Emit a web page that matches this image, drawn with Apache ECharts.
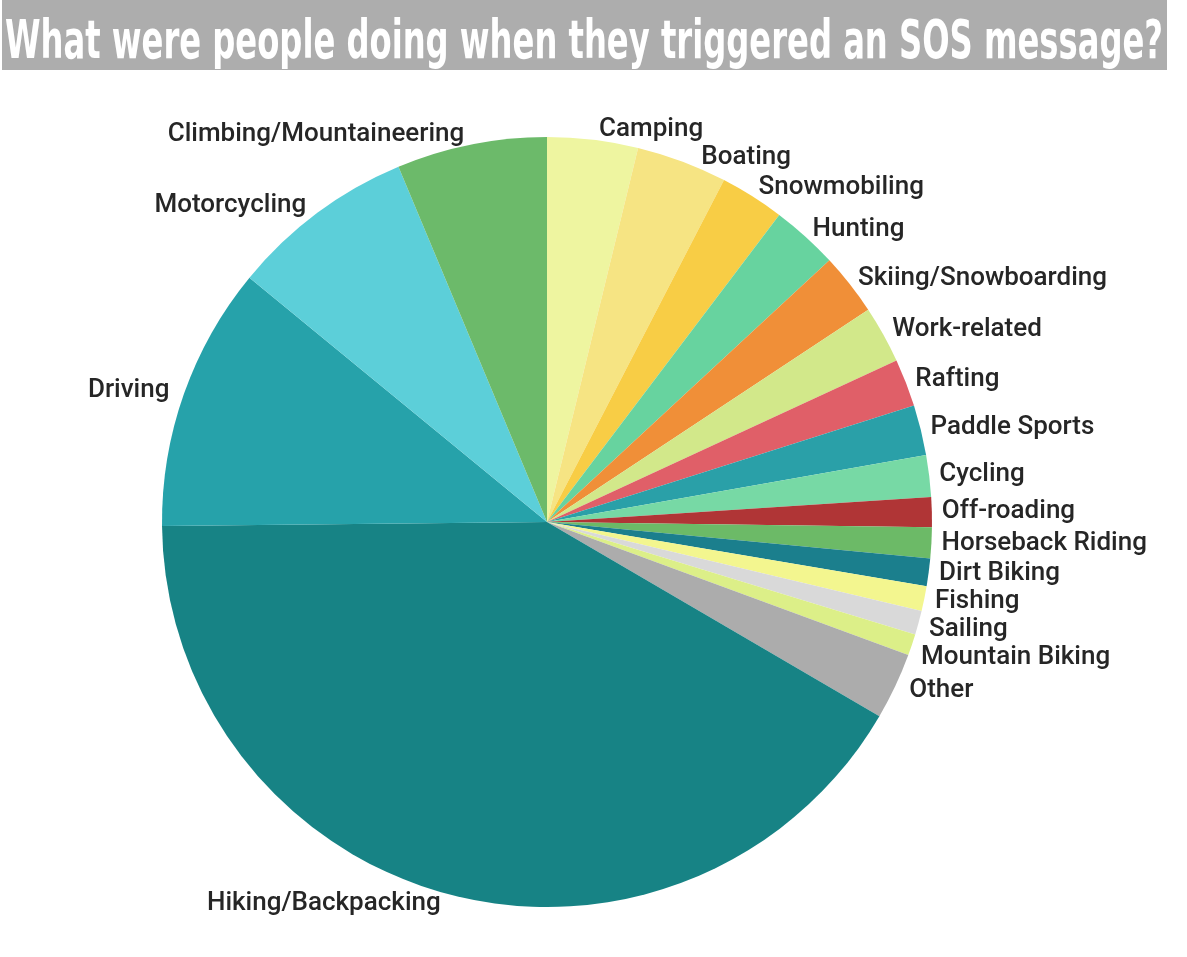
<!DOCTYPE html>
<html>
<head>
<meta charset="utf-8">
<title>SOS activities</title>
<script src="https://cdn.jsdelivr.net/npm/echarts@6/dist/echarts.min.js"></script>
<style>
  html, body { margin: 0; padding: 0; background: #fff; }
  #chart { width: 1187px; height: 957px; }
</style>
</head>
<body>
<div id="chart"></div>
<script>
// 数据 (读图估算, 百分比)
var titleText = 'What were people doing when they triggered an SOS message?'
var categories = [
  'Camping', 'Boating', 'Snowmobiling', 'Hunting', 'Skiing/Snowboarding',
  'Work-related', 'Rafting', 'Paddle Sports', 'Cycling', 'Off-roading',
  'Horseback Riding', 'Dirt Biking', 'Fishing', 'Sailing', 'Mountain Biking',
  'Other', 'Hiking/Backpacking', 'Driving', 'Motorcycling', 'Climbing/Mountaineering'
]
var values = [
  3.8, 3.8, 2.7, 2.8, 2.6,
  2.4, 2.0, 2.1, 1.75, 1.25,
  1.3, 1.15, 1.05, 1.0, 0.9,
  2.8, 41.4, 11.1, 7.75, 6.3
]
var colors = [
  '#eef5a0', '#f6e483', '#f8cd45', '#67d39f', '#f08f38',
  '#d2e88a', '#e05f68', '#2aa0a8', '#77d9a5', '#b03536',
  '#6cba67', '#1b7f8d', '#f3f68f', '#d9d9d9', '#dcef88',
  '#acacac', '#178385', '#26a2aa', '#5ccfd9', '#6cba6a'
]

// 标题字体压缩, 按宽度算 scaleX
var titleFont = 'bold 53px "DejaVu Sans Condensed"'
var ctx = document.createElement('canvas').getContext('2d')
ctx.font = titleFont
var titleScale = 1158 / ctx.measureText(titleText).width

var chart = echarts.init(document.getElementById('chart'))

var pieData = categories.map(function (name, i) {
  return { name: name, value: values[i], itemStyle: { color: colors[i] } }
})

chart.setOption({
  animation: false,
  graphic: [{
    type: 'rect',
    left: 2,
    top: 0,
    shape: { width: 1165, height: 70 },
    style: { fill: '#adadad' }
  }, {
    type: 'text',
    x: 5,
    y: 71,
    scaleX: titleScale,
    style: {
      text: titleText,
      font: titleFont,
      fill: '#ffffff',
      textVerticalAlign: 'bottom'
    }
  }],
  series: [{
    type: 'pie',
    center: [547, 522],
    radius: 385,
    startAngle: 90,
    clockwise: true,
    minShowLabelAngle: 0,
    avoidLabelOverlap: true,
    label: {
      show: true,
      position: 'outside',
      color: '#262626',
      fontFamily: 'Roboto',
      fontWeight: 500,
      fontSize: 26,
      formatter: '{b}'
    },
    labelLine: {
      show: false,
      length: 10,
      length2: 0
    },
    emphasis: { disabled: true },
    data: pieData
  }]
})
</script>
</body>
</html>
